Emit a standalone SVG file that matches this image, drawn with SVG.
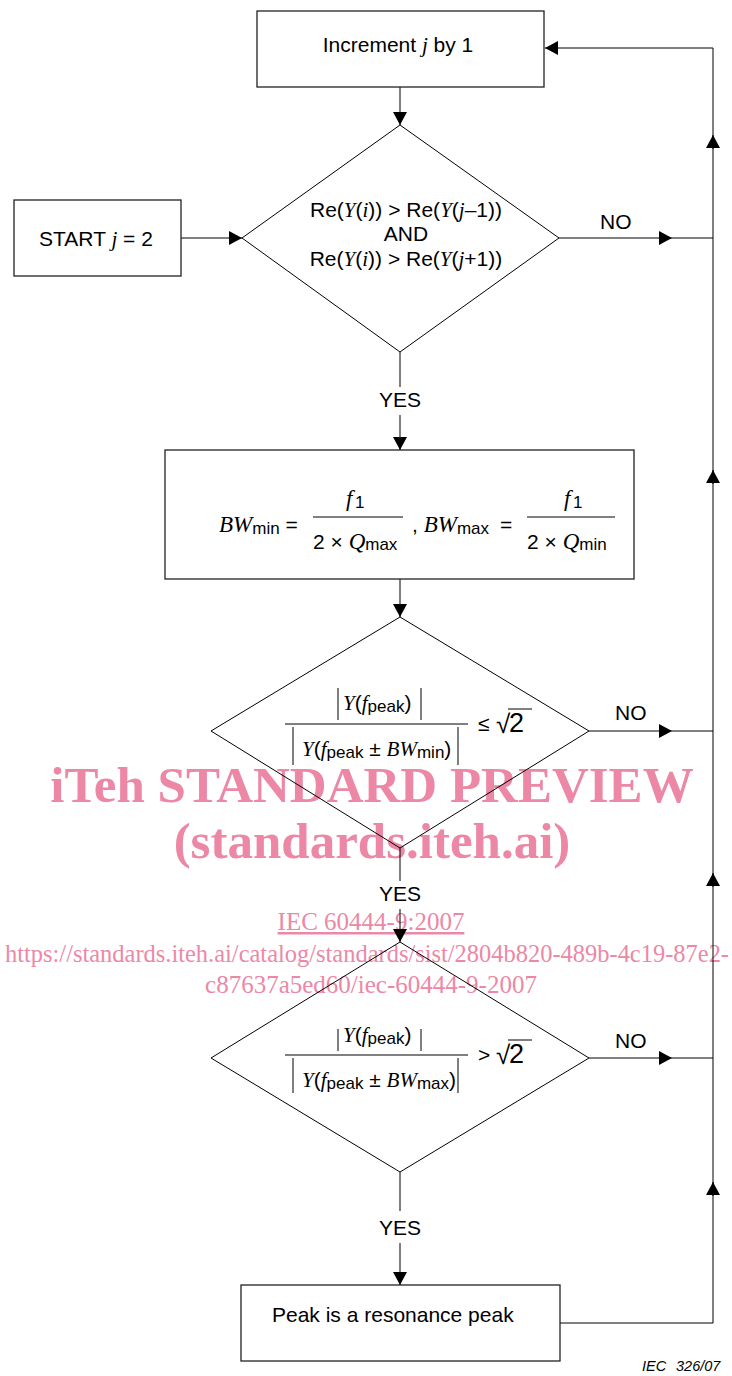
<svg xmlns="http://www.w3.org/2000/svg" width="732" height="1376" viewBox="0 0 732 1376">
<style>
.t{font-family:"Liberation Sans",Arial,sans-serif;font-size:21px;fill:#000}
.v{font-family:"Liberation Serif","Times New Roman",serif;font-style:italic}
.s{font-size:17px}
.big{font-size:23px}
.box{fill:none;stroke:#222;stroke-width:1.3}
.ln{fill:none;stroke:#000;stroke-width:1}
.wm{font-family:"Liberation Serif","Times New Roman",serif;fill:#ec88a6}
.wb{font-weight:bold;font-size:51px}
.ws{font-size:25px}
.fig{font-family:"Liberation Sans",Arial,sans-serif;font-size:14.5px;font-style:italic;fill:#000}
</style>
<defs>
<marker id="ah" viewBox="0 0 13 14" refX="13" refY="7" markerWidth="13" markerHeight="14" markerUnits="userSpaceOnUse" orient="auto">
<path d="M0,0 L13,7 L0,14 z" fill="#000"/>
</marker>
</defs>
<rect width="732" height="1376" fill="#fff"/>

<g id="watermark">
<text class="wm wb" x="372" y="802" text-anchor="middle">iTeh STANDARD PREVIEW</text>
<text class="wm wb" x="372" y="858" text-anchor="middle">(standards.iteh.ai)</text>
<text class="wm ws" x="371" y="930" text-anchor="middle" text-decoration="underline">IEC 60444-9:2007</text>
<text class="wm ws" x="5" y="962" textLength="724" lengthAdjust="spacingAndGlyphs">https://standards.iteh.ai/catalog/standards/sist/2804b820-489b-4c19-87e2-</text>
<text class="wm ws" x="371" y="993" text-anchor="middle">c87637a5ed60/iec-60444-9-2007</text>
</g>

<g id="connectors">
<path class="ln" d="M400,87 V125" marker-end="url(#ah)"/>
<path class="ln" d="M181,238 H242" marker-end="url(#ah)"/>
<path class="ln" d="M559,238 H672" marker-end="url(#ah)"/>
<path class="ln" d="M672,238 H713"/>
<path class="ln" d="M400,352 V387"/>
<path class="ln" d="M400,415 V450" marker-end="url(#ah)"/>
<path class="ln" d="M400,579 V617" marker-end="url(#ah)"/>
<path class="ln" d="M589,731 H672" marker-end="url(#ah)"/>
<path class="ln" d="M672,731 H713"/>
<path class="ln" d="M400,848 V881"/>
<path class="ln" d="M400,909 V942" marker-end="url(#ah)"/>
<path class="ln" d="M589,1058 H672" marker-end="url(#ah)"/>
<path class="ln" d="M672,1058 H713"/>
<path class="ln" d="M400,1172 V1211"/>
<path class="ln" d="M400,1243 V1285" marker-end="url(#ah)"/>
<path class="ln" d="M560,1323 H713 V1182" marker-end="url(#ah)"/>
<path class="ln" d="M713,1196 V873" marker-end="url(#ah)"/>
<path class="ln" d="M713,887 V470" marker-end="url(#ah)"/>
<path class="ln" d="M713,484 V135" marker-end="url(#ah)"/>
<path class="ln" d="M713,149 V48 H545" marker-end="url(#ah)"/>
<text class="t" x="600" y="229">NO</text>
<text class="t" x="400" y="407" text-anchor="middle">YES</text>
<text class="t" x="615" y="720">NO</text>
<text class="t" x="400" y="901" text-anchor="middle">YES</text>
<text class="t" x="615" y="1048">NO</text>
<text class="t" x="400" y="1235" text-anchor="middle">YES</text>
</g>

<g id="increment">
<rect class="box" x="257" y="11" width="287" height="76"/>
<text class="t" x="398" y="52" text-anchor="middle">Increment <tspan class="v">j</tspan> by 1</text>
</g>

<g id="start">
<rect class="box" x="14" y="200" width="167" height="76"/>
<text class="t" x="96" y="246" text-anchor="middle">START <tspan class="v">j</tspan> = 2</text>
</g>

<g id="decision1">
<polygon class="ln" points="400,125 559,238 400,352 242,238"/>
<text class="t" x="406" y="217" text-anchor="middle">Re(<tspan class="v">Y</tspan>(<tspan class="v">i</tspan>)) &gt; Re(<tspan class="v">Y</tspan>(<tspan class="v">j</tspan>–1))</text>
<text class="t" x="406" y="241" text-anchor="middle">AND</text>
<text class="t" x="406" y="266" text-anchor="middle">Re(<tspan class="v">Y</tspan>(<tspan class="v">i</tspan>)) &gt; Re(<tspan class="v">Y</tspan>(<tspan class="v">j</tspan>+1))</text>
</g>

<g id="bandwidth">
<rect class="box" x="165" y="450" width="469" height="129"/>
<text class="t" x="219" y="532"><tspan class="v big">BW</tspan><tspan class="s" dy="2">min</tspan><tspan dy="-2"> =</tspan></text>
<text class="t" x="346" y="506"><tspan class="v big">f</tspan><tspan class="s" x="355" dy="2">1</tspan></text>
<line class="ln" x1="313" y1="517" x2="403" y2="517"/>
<text class="t" x="313" y="549">2 × <tspan class="v big">Q</tspan><tspan class="s" dy="1">max</tspan></text>
<text class="t" x="412" y="532">, <tspan class="v big">BW</tspan><tspan class="s" dy="2">max</tspan><tspan x="500" dy="-2">=</tspan></text>
<text class="t" x="564" y="506"><tspan class="v big">f</tspan><tspan class="s" x="573" dy="2">1</tspan></text>
<line class="ln" x1="527" y1="517" x2="615" y2="517"/>
<text class="t" x="527" y="549">2 × <tspan class="v big">Q</tspan><tspan class="s" dy="1">min</tspan></text>
</g>

<g id="decision2">
<polygon class="ln" points="400,617 589,731 400,848 211,731"/>
<line class="ln" x1="338" y1="688" x2="338" y2="720"/>
<line class="ln" x1="421" y1="688" x2="421" y2="720"/>
<text class="t" x="343" y="710"><tspan class="v">Y</tspan>(<tspan class="v">f</tspan><tspan class="s" dy="2">peak</tspan><tspan dy="-2">)</tspan></text>
<line class="ln" x1="285" y1="724" x2="468" y2="724"/>
<line class="ln" x1="293" y1="727" x2="293" y2="765"/>
<line class="ln" x1="458" y1="727" x2="458" y2="765"/>
<text class="t" x="302" y="756"><tspan class="v">Y</tspan>(<tspan class="v">f</tspan><tspan class="s" dy="2">peak</tspan><tspan dy="-2"> ± </tspan><tspan class="v">BW</tspan><tspan class="s" dy="2">min</tspan><tspan dy="-2">)</tspan></text>
<text class="t" x="478" y="731">≤</text>
<text class="t" x="496" y="733" style="font-size:26px">√</text>
<text class="t" x="509" y="732" style="font-size:27px">2</text>
<line class="ln" x1="508" y1="709" x2="532" y2="709"/>
</g>

<g id="decision3">
<polygon class="ln" points="400,942 589,1058 400,1172 211,1058"/>
<line class="ln" x1="338" y1="1029" x2="338" y2="1051"/>
<line class="ln" x1="421" y1="1029" x2="421" y2="1051"/>
<text class="t" x="343" y="1042"><tspan class="v">Y</tspan>(<tspan class="v">f</tspan><tspan class="s" dy="2">peak</tspan><tspan dy="-2">)</tspan></text>
<line class="ln" x1="285" y1="1055" x2="468" y2="1055"/>
<line class="ln" x1="293" y1="1058" x2="293" y2="1093"/>
<line class="ln" x1="458" y1="1058" x2="458" y2="1093"/>
<text class="t" x="302" y="1087"><tspan class="v">Y</tspan>(<tspan class="v">f</tspan><tspan class="s" dy="2">peak</tspan><tspan dy="-2"> ± </tspan><tspan class="v">BW</tspan><tspan class="s" dy="2">max</tspan><tspan dy="-2">)</tspan></text>
<text class="t" x="478" y="1062">&gt;</text>
<text class="t" x="496" y="1064" style="font-size:26px">√</text>
<text class="t" x="509" y="1063" style="font-size:27px">2</text>
<line class="ln" x1="508" y1="1040" x2="532" y2="1040"/>
</g>

<g id="resonance">
<rect class="box" x="241" y="1285" width="319" height="76"/>
<text class="t" x="272" y="1322">Peak is a resonance peak</text>
</g>

<g id="caption">
<text class="fig" x="642" y="1371">IEC</text>
<text class="fig" x="676" y="1371">326/07</text>
</g>
</svg>
